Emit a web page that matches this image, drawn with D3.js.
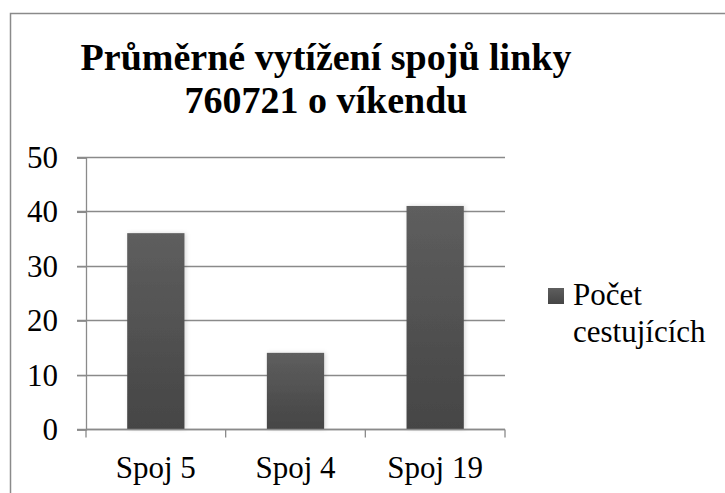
<!DOCTYPE html>
<html>
<head>
<meta charset="utf-8">
<script src="https://cdn.jsdelivr.net/npm/d3@7"></script>
</head>
<body style="margin:0">
<svg width="725" height="493" id="chart"></svg>
<script>
// Data
const categories = ["Spoj 5", "Spoj 4", "Spoj 19"];
const values = [36, 14, 41];
const yTicks = [0, 10, 20, 30, 40, 50];
const titleLines = ["Průměrné vytížení spojů linky", "760721 o víkendu"];
const seriesName = ["Počet", "cestujících"];

const plot = { left: 86, right: 505, top: 157, bottom: 429 };
const FONT = '"Liberation Serif"';

const svg = d3.select("#chart");

const defs = svg.append("defs");
const grad = defs.append("linearGradient")
    .attr("id", "barGrad")
    .attr("x1", 0).attr("y1", 0).attr("x2", 0).attr("y2", 1);
grad.append("stop").attr("offset", "0%").attr("stop-color", "#5e5e5e");
grad.append("stop").attr("offset", "100%").attr("stop-color", "#454545");

const shadow = defs.append("filter")
    .attr("id", "shadow")
    .attr("x", "-20%").attr("y", "-20%")
    .attr("width", "140%").attr("height", "140%");
shadow.append("feDropShadow")
    .attr("dx", 1.5).attr("dy", 0)
    .attr("stdDeviation", 2)
    .attr("flood-color", "#000")
    .attr("flood-opacity", 0.15);

// chart frame (cropped at right and bottom)
svg.append("rect")
    .attr("x", 10.5).attr("y", 13.5)
    .attr("width", 740).attr("height", 500)
    .attr("fill", "#fff")
    .attr("stroke", "#8a8a8a")
    .attr("stroke-width", 1.5);

// Title
titleLines.forEach((line, i) => {
  svg.append("text")
      .attr("x", 326)
      .attr("y", 70 + i * 43)
      .attr("text-anchor", "middle")
      .style("font-family", FONT)
      .style("font-weight", "bold")
      .attr("font-size", 38)
      .attr("fill", "#000")
      .text(line);
});

// Scales
const x = d3.scaleBand()
    .domain(categories)
    .range([plot.left, plot.right])
    .paddingInner(0.59)
    .paddingOuter(0.295);

const y = d3.scaleLinear()
    .domain([0, 50])
    .range([plot.bottom, plot.top]);

// Gridlines
svg.append("g")
    .selectAll("line")
    .data(yTicks)
    .join("line")
    .attr("x1", plot.left - 9)
    .attr("x2", plot.right)
    .attr("y1", d => Math.round(y(d)) + 0.5)
    .attr("y2", d => Math.round(y(d)) + 0.5)
    .attr("stroke", "#8a8a8a")
    .attr("stroke-width", 1.3);

// Y axis
const yAxis = svg.append("g")
    .attr("transform", `translate(${plot.left},0.5)`)
    .call(d3.axisLeft(y).tickValues(yTicks).tickSize(9).tickFormat(""));
yAxis.select(".domain").attr("stroke", "#8a8a8a").attr("stroke-width", 1.3);
yAxis.selectAll(".tick line").attr("stroke", "#8a8a8a").attr("stroke-width", 1.3);

svg.append("g")
    .selectAll("text")
    .data(yTicks)
    .join("text")
    .attr("x", plot.left - 28)
    .attr("y", d => y(d) + 11)
    .attr("text-anchor", "end")
    .style("font-family", FONT)
    .attr("font-size", 31)
    .attr("fill", "#000")
    .text(d => d);

// Bars
svg.append("g")
    .selectAll("rect")
    .data(categories.map((c, i) => ({ c, v: values[i] })))
    .join("rect")
    .attr("x", d => x(d.c))
    .attr("y", d => y(d.v))
    .attr("width", x.bandwidth())
    .attr("height", d => y(0) - y(d.v))
    .attr("fill", "url(#barGrad)")
    .attr("filter", "url(#shadow)");

// X axis
const x0 = Math.round(y(0)) + 0.5;
svg.append("line")
    .attr("x1", plot.left).attr("x2", plot.right)
    .attr("y1", x0).attr("y2", x0)
    .attr("stroke", "#8a8a8a").attr("stroke-width", 1.3);
svg.append("g")
    .selectAll("line")
    .data(d3.range(categories.length + 1))
    .join("line")
    .attr("x1", i => x.range()[0] + i * x.step())
    .attr("x2", i => x.range()[0] + i * x.step())
    .attr("y1", x0).attr("y2", x0 + 8)
    .attr("stroke", "#8a8a8a").attr("stroke-width", 1.3);
svg.append("g")
    .selectAll("text")
    .data(categories)
    .join("text")
    .attr("x", d => x(d) + x.bandwidth() / 2)
    .attr("y", 478)
    .attr("text-anchor", "middle")
    .style("font-family", FONT)
    .attr("font-size", 31)
    .attr("fill", "#000")
    .text(d => d);

// Legend
svg.append("rect")
    .attr("x", 548).attr("y", 288)
    .attr("width", 16).attr("height", 16)
    .attr("fill", "url(#barGrad)");
seriesName.forEach((line, i) => {
  svg.append("text")
      .attr("x", 573)
      .attr("y", 305 + i * 37)
      .style("font-family", FONT)
      .attr("font-size", 31)
      .attr("fill", "#000")
      .text(line);
});
</script>
</body>
</html>
